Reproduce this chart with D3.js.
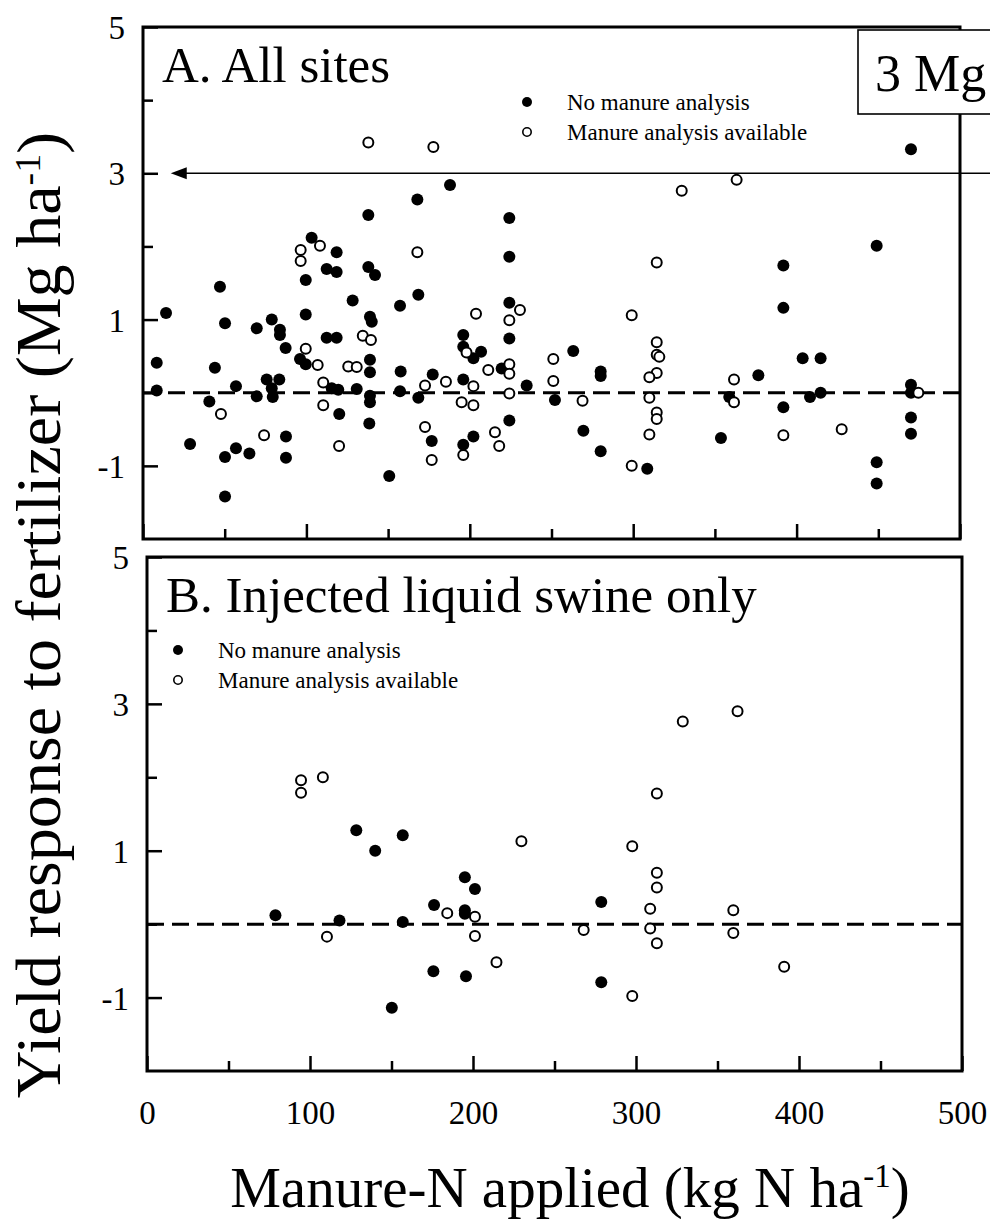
<!DOCTYPE html>
<html lang="en">

<head>
    <meta charset="UTF-8" />
    <title>Yield response to fertilizer vs manure-N applied</title>
    <style>
        body { margin: 0; background: #fff; }
        svg { display: block; font-family: "Liberation Serif", "Times New Roman", serif; }
        .tick text { font-family: "Liberation Serif", "Times New Roman", serif; }
    </style>
</head>

<body>
    <svg id="chart" width="990" height="1219"></svg>

    <script src="https://d3js.org/d3.v7.min.js"></script>
    <script>
        // ---- data (kg N/ha applied, Mg/ha yield response) ----
        // Panel A: all sites
        const allNoAnalysis = [
            [187.9, 2.84], [167.9, 2.64], [137.9, 2.43], [103.2, 2.12], [118.5, 1.92],
            [112.4, 1.69], [118.5, 1.65], [137.9, 1.72], [142, 1.61], [99.6, 1.54],
            [47.1, 1.45], [14.1, 1.09], [50.2, 0.95], [69.6, 0.88], [78.8, 1.0],
            [83.8, 0.86], [83.8, 0.79], [87.3, 0.61], [99.6, 1.07], [128.3, 1.26],
            [157.3, 1.19], [168.5, 1.34], [138.9, 1.04], [140, 0.97], [112.4, 0.75],
            [118.5, 0.75], [196, 0.79], [196, 0.63], [8.4, 0.41], [44, 0.34],
            [96.1, 0.46], [99.6, 0.39], [138.9, 0.45], [138.9, 0.28], [157.7, 0.29],
            [177.3, 0.25], [196, 0.18], [8.4, 0.03], [56.9, 0.09], [75.7, 0.18],
            [83.4, 0.18], [78.8, 0.06], [79.4, -0.06], [69.6, -0.05], [40.6, -0.12],
            [115.5, 0.06], [119.5, 0.04], [120.1, -0.29], [130.8, 0.05], [138.9, -0.04],
            [138.9, -0.13], [138.5, -0.42], [157.3, 0.02], [168.5, -0.07], [176.7, -0.66],
            [196, -0.71], [28.8, -0.7], [50.2, -0.88], [56.9, -0.76], [65.1, -0.83],
            [87.5, -0.6], [87.5, -0.89], [150.7, -1.14], [50.2, -1.42], [224.2, 2.39],
            [224.2, 1.86], [391.9, 1.74], [391.9, 1.16], [224.2, 1.23], [224.2, 0.74],
            [202.2, 0.47], [206.9, 0.56], [219.5, 0.33], [234.8, 0.1], [263.3, 0.57],
            [280.1, 0.29], [280.1, 0.23], [252.1, -0.1], [224.2, -0.38], [202.2, -0.6],
            [269.5, -0.52], [280.1, -0.8], [308.6, -1.04], [376.6, 0.24], [358.8, -0.06],
            [353.7, -0.62], [391.9, -0.2], [470, 3.33], [449, 2.01], [403.7, 0.47],
            [414.7, 0.47], [408.2, -0.06], [414.7, 0.0], [449, -0.95], [449, -1.24],
            [470, 0.11], [470, 0.0], [470, -0.34], [470, -0.56]
        ];
        const allWithAnalysis = [
            [137.9, 3.42], [177.7, 3.36], [96.5, 1.95], [96.5, 1.8], [108.3, 2.01],
            [167.9, 1.92], [134.5, 0.78], [139.5, 0.72], [198, 0.55], [99.6, 0.6],
            [106.9, 0.38], [125.6, 0.36], [130.8, 0.35], [185.4, 0.15], [172.6, 0.1],
            [195, -0.13], [47.7, -0.29], [110.3, 0.14], [110.3, -0.17], [172.6, -0.47],
            [176.7, -0.92], [196, -0.85], [74.1, -0.58], [120, -0.73], [329.7, 2.76],
            [363.3, 2.91], [314.4, 1.78], [203.8, 1.08], [230.7, 1.13], [224.2, 0.99],
            [299.1, 1.06], [314.4, 0.69], [314.4, 0.52], [316, 0.49], [314.4, 0.27],
            [309.9, 0.21], [211.3, 0.31], [224.2, 0.39], [224.2, 0.26], [202.2, 0.09],
            [224.2, -0.01], [251.1, 0.46], [251.1, 0.16], [269, -0.11], [202.2, -0.17],
            [215.4, -0.54], [218, -0.73], [309.9, -0.07], [314.4, -0.27], [314.4, -0.36],
            [309.9, -0.57], [299.1, -1.0], [361.7, 0.18], [361.7, -0.13], [391.9, -0.58],
            [427.6, -0.5], [474.5, 0.0]
        ];
        // Panel B: injected liquid swine only
        const swineNoAnalysis = [
            [128.4, 1.28], [140, 1.0], [156.9, 1.21], [195, 0.64], [201.2, 0.48],
            [176.1, 0.26], [195, 0.19], [195, 0.14], [78.8, 0.12], [118.1, 0.05],
            [156.9, 0.03], [175.7, -0.64], [195.7, -0.71], [150.2, -1.14], [278.7, 0.3],
            [278.7, -0.79]
        ];
        const swineWithAnalysis = [
            [94.5, 1.96], [94.5, 1.79], [107.9, 2.0], [229.7, 1.13], [184.2, 0.15],
            [201.2, 0.1], [110.4, -0.17], [201.2, -0.16], [214.4, -0.52], [362.3, 2.9],
            [328.7, 2.76], [312.8, 1.78], [297.7, 1.06], [312.8, 0.7], [312.8, 0.5],
            [308.7, 0.21], [359.7, 0.19], [267.9, -0.08], [308.7, -0.06], [359.7, -0.12],
            [312.8, -0.26], [390.9, -0.58], [297.7, -0.98]
        ];

        const xDomain = [0, 500];
        const yDomain = [-2, 5];
        const xTicksMajor = [0, 100, 200, 300, 400, 500];
        const xTicksMinor = [50, 150, 250, 350, 450];
        const yTicksMajor = [5, 3, 1, -1];
        const yTicksMinor = [4, 2, 0];
        const legendLabels = ['No manure analysis', 'Manure analysis available'];
        const highlightValue = 3;      // Mg/ha, arrow in panel A
        const arrowTipN = 17;          // kg N/ha, where the arrow points
        const highlightLabel = '3 Mg';

        // ---- layout ----
        const serif = '"Liberation Serif", "Times New Roman", serif';
        const panels = [
            { frame: [143, 27, 960, 539], title: 'A. All sites', filled: allNoAnalysis, open: allWithAnalysis, legend: [527, 102], xLabels: false },
            { frame: [147, 557, 962, 1071], title: 'B. Injected liquid swine only', filled: swineNoAnalysis, open: swineWithAnalysis, legend: [178, 650], xLabels: true }
        ];
        const plain = d => String(d);   // keep ASCII hyphen for negatives, as in the original

        const svg = d3.select('#chart');

        panels.forEach((p, i) => {
            const [x0, y0, x1, y1] = p.frame;
            const x = d3.scaleLinear().domain(xDomain).range([x0, x1]);
            const y = d3.scaleLinear().domain(yDomain).range([y1, y0]);
            const g = svg.append('g');

            // zero reference line
            g.append('line')
                .attr('x1', x(0)).attr('x2', x(500))
                .attr('y1', y(0)).attr('y2', y(0))
                .attr('stroke', '#000')
                .attr('stroke-width', 3)
                .attr('stroke-dasharray', '17,8');

            // y axis (ticks inside)
            const yMajor = g.append('g')
                .attr('transform', `translate(${x0},0)`)
                .call(d3.axisLeft(y).tickValues(yTicksMajor).tickSize(-15).tickPadding(18).tickFormat(plain));
            g.append('g')
                .attr('transform', `translate(${x0},0)`)
                .call(d3.axisLeft(y).tickValues(yTicksMinor).tickSize(-10).tickFormat(''));

            // x axis (ticks inside)
            g.append('g')
                .attr('transform', `translate(0,${y1})`)
                .call(d3.axisBottom(x).tickValues(xTicksMajor).tickSize(-15).tickPadding(30)
                    .tickFormat(p.xLabels ? plain : ''));
            g.append('g')
                .attr('transform', `translate(0,${y1})`)
                .call(d3.axisBottom(x).tickValues(xTicksMinor).tickSize(-10).tickFormat(''));

            g.selectAll('.domain').remove();
            g.selectAll('.tick line').attr('stroke', '#000').attr('stroke-width', 2.5);
            g.selectAll('.tick text')
                .attr('fill', '#000')
                .style('font-size', '33px')
                .style('font-family', serif);
            yMajor.selectAll('.tick text').attr('dy', '0.35em');

            // frame
            g.append('rect')
                .attr('x', x0).attr('y', y0)
                .attr('width', x1 - x0).attr('height', y1 - y0)
                .attr('fill', 'none')
                .attr('stroke', '#000')
                .attr('stroke-width', 3);

            // points
            g.selectAll('.filled')
                .data(p.filled)
                .join('circle')
                .attr('class', 'filled')
                .attr('cx', d => x(d[0]))
                .attr('cy', d => y(d[1]))
                .attr('r', 6)
                .attr('fill', '#000');

            g.selectAll('.open')
                .data(p.open)
                .join('circle')
                .attr('class', 'open')
                .attr('cx', d => x(d[0]))
                .attr('cy', d => y(d[1]))
                .attr('r', 5)
                .attr('fill', '#fff')
                .attr('stroke', '#000')
                .attr('stroke-width', 2);

            // title
            g.append('text')
                .attr('x', x0 + 19)
                .attr('y', y0 + 55)
                .style('font-size', '51px')
                .text(p.title);

            // legend
            const [lx, ly] = p.legend;
            const leg = g.append('g').attr('transform', `translate(${lx},${ly})`);
            leg.append('circle').attr('cx', 0).attr('cy', 0).attr('r', 5).attr('fill', '#000');
            leg.append('circle').attr('cx', 0).attr('cy', 30).attr('r', 4.2)
                .attr('fill', '#fff').attr('stroke', '#000').attr('stroke-width', 1.6);
            leg.selectAll('text')
                .data(legendLabels)
                .join('text')
                .attr('x', 40)
                .attr('y', (d, k) => k * 30)
                .attr('dy', '0.35em')
                .style('font-size', '23px')
                .text(d => d);

            // arrow + boxed note in panel A
            if (i === 0) {
                const ay = y(highlightValue);
                const tip = x(arrowTipN);
                g.append('line')
                    .attr('x1', 1000).attr('x2', tip + 10)
                    .attr('y1', ay).attr('y2', ay)
                    .attr('stroke', '#000')
                    .attr('stroke-width', 1.6);
                g.append('path')
                    .attr('d', `M${tip},${ay}L${tip + 16},${ay - 6}L${tip + 16},${ay + 6}Z`)
                    .attr('fill', '#000');

                g.append('rect')
                    .attr('x', 858).attr('y', 30)
                    .attr('width', 200).attr('height', 84)
                    .attr('fill', '#fff')
                    .attr('stroke', '#000')
                    .attr('stroke-width', 1.6);
                g.append('text')
                    .attr('x', 875).attr('y', 91)
                    .style('font-size', '52px')
                    .text(highlightLabel);
            }
        });

        // axis titles
        const yTitle = svg.append('text')
            .attr('transform', 'translate(60,615) rotate(-90) scale(1.05,1)')
            .attr('text-anchor', 'middle')
            .style('font-size', '63px');
        yTitle.append('tspan').text('Yield response to fertilizer (Mg ha');
        yTitle.append('tspan').attr('dy', '-0.55em').style('font-size', '36px').text('-1');
        yTitle.append('tspan').attr('dy', '0.33em').text(')');

        const xTitle = svg.append('text')
            .attr('x', 570).attr('y', 1207)
            .attr('text-anchor', 'middle')
            .style('font-size', '57px');
        xTitle.append('tspan').text('Manure-N applied (kg N ha');
        xTitle.append('tspan').attr('dy', '-0.6em').style('font-size', '33px').text('-1');
        xTitle.append('tspan').attr('dy', '0.35em').text(')');
    </script>
</body>

</html>
